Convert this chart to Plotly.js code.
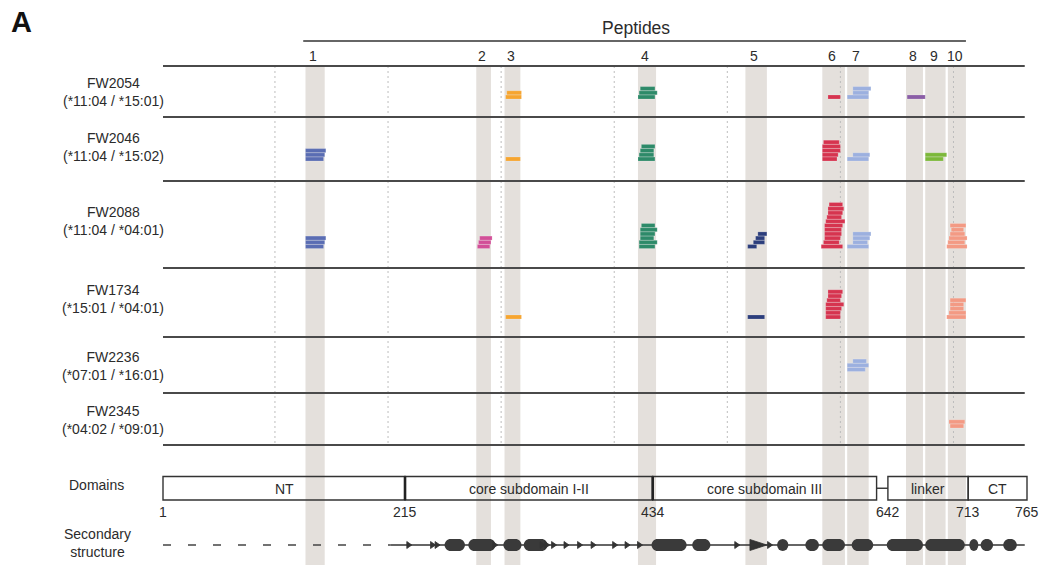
<!DOCTYPE html>
<html><head><meta charset="utf-8">
<script src="https://cdn.plot.ly/plotly-3.0.1.min.js"></script>
<style>html,body{margin:0;padding:0;background:#fff}</style>
</head><body>
<div id="chart" style="width:1041px;height:565px"></div>
<script>
// ---------------- DATA ----------------
const donors = ['FW2054','FW2046','FW2088','FW1734','FW2236','FW2345'];
const alleles = ['(*11:04 / *15:01)','(*11:04 / *15:02)','(*11:04 / *04:01)','(*15:01 / *04:01)','(*07:01 / *16:01)','(*04:02 / *09:01)'];
const peptideLabels = ['1','2','3','4','5','6','7','8','9','10'];
const peptideStart = [127,278,303,421,516,584,606,658,675,695];
const peptideEnd   = [144,291,317,437,535,604,625,673,693,711];
const residueGuides = [100,200,300,400,500,600,700];

// peptide hits per peptide: [donorIndex, startResidue, endResidue], listed bottom-to-top within a donor
const pep1Hits = [[1,127,143],[1,127,144],[1,127,145],[2,127,143],[2,127,144],[2,127,145]];
const pep2Hits = [[2,279,290],[2,280,291],[2,281,292]];
const pep3Hits = [[0,304,318],[0,305,318],[1,304,317],[3,304,318]];
const pep4Hits = [[0,421,436],[0,422,438],[0,423,436],[1,421,436],[1,422,435],[1,423,435],[1,424,436],
                  [2,422,436],[2,422,438],[2,423,435],[2,423,436],[2,423,438],[2,424,436]];
const pep5Hits = [[2,518,526],[2,523,533],[2,525,533],[2,527,535],[3,518,533]];
const pep6Hits = [[0,589,600],
                  [1,584,597],[1,584,598],[1,584,600],[1,584,600],[1,585,599],
                  [2,583,602],[2,585,599],[2,586,600],[2,586,601],[2,586,601],[2,586,602],[2,587,604],[2,588,601],[2,589,602],[2,589,603],[2,590,602],
                  [3,587,600],[3,587,600],[3,587,601],[3,587,603],[3,588,600],[3,589,601],[3,589,602]];
const pep7Hits = [[0,606,625],[0,611,625],[0,611,627],[1,606,625],[1,611,626],
                  [2,606,625],[2,611,624],[2,611,626],[2,611,627],[4,606,622],[4,606,625],[4,611,623]];
const pep8Hits = [[0,659,675]];
const pep9Hits = [[1,675,691],[1,675,694]];
const pep10Hits = [[2,694,712],[2,695,710],[2,696,712],[2,697,710],[2,698,709],[2,697,711],
                   [3,694,711],[3,696,711],[3,697,709],[3,697,709],[3,697,711],[5,697,709],[5,696,710]];
const allHits = [pep1Hits,pep2Hits,pep3Hits,pep4Hits,pep5Hits,pep6Hits,pep7Hits,pep8Hits,pep9Hits,pep10Hits];

// domains
const domainNames = ['NT','core subdomain I-II','core subdomain III','linker','CT'];
const domainStart = [1,215,434,642,713];
const domainEnd   = [215,434,632,713,765];
const boundaryLabels = [1,215,434,642,713,765];

// secondary structure
const disorderedEnd = 202;
const structureEnd = 763;
const helixStart = [250,271,302,320,433,469,544,569,584,610,641,675,714,724,744];
const helixEnd   = [268,295,318,341,464,485,554,581,604,629,673,710,722,735,756];
const strandAt = [221,242,246,297,339,343,349,360,372,384,403,414,425,511,540];
const bigStrandStart = [520];
const bigStrandEnd = [535];

// ---------------- STYLE / LAYOUT ----------------
const peptideColors = ['#5a6db3','#d24f98','#f6a530','#2d8a69','#2c3e7c','#d6344f','#9cb0df','#8a5ea6','#7cb83a','#f39a84'];
const W = 1041, H = 565;
const xRange = [-143.13, 777.38];
const resPerPx = (xRange[1]-xRange[0])/W;
const rowLines = [66,117,181,268,337,393,445];
const rowBase = [97,159,246.5,317,369.5,426];
const labelY = [92,147,221,299,366,420];
const barStep = 4.2, barH = 4.0;
const FONT = 'Liberation Sans, Arial, sans-serif';
const TXT = '#2b2b2b';

// ---------------- TRACES ----------------
const traces = allHits.map((hits, k) => {
  const counts = {};
  const ys = [], bases = [], lens = [];
  hits.forEach(h => {
    const d = h[0];
    const lvl = counts[d] || 0; counts[d] = lvl + 1;
    ys.push(rowBase[d] - lvl*barStep);
    bases.push(h[1]);
    lens.push(h[2]-h[1]);
  });
  return {type:'bar', orientation:'h', y:ys, x:lens, base:bases, width:barH,
    marker:{color:peptideColors[k], line:{color:'rgba(255,255,255,0.35)', width:0.5}},
    showlegend:false, hoverinfo:'skip'};
});

// ---------------- SHAPES ----------------
const shapes = [];
peptideStart.forEach((s,i)=>{
  shapes.push({type:'rect', xref:'x', yref:'y', x0:s, x1:peptideEnd[i], y0:rowLines[0], y1:H,
    fillcolor:'#e4e0dc', line:{width:0}, layer:'below'});
});
residueGuides.forEach(r=>{
  shapes.push({type:'line', xref:'x', yref:'y', x0:r, x1:r, y0:rowLines[0], y1:rowLines[rowLines.length-1],
    line:{color:'#bdbdbd', width:1, dash:'2px,3px'}, layer:'below'});
});
rowLines.forEach(y=>{
  shapes.push({type:'line', xref:'x', yref:'y', x0:1, x1:763, y0:y, y1:y,
    line:{color:'#4a4a4a', width:1.8}, layer:'below'});
});
shapes.push({type:'line', xref:'x', yref:'y', x0:peptideStart[0]-2, x1:peptideEnd[9], y0:41, y1:41,
  line:{color:'#333', width:1.5}});
const boxTop = 476.5, boxBot = 500;
domainStart.forEach((s,i)=>{
  shapes.push({type:'rect', xref:'x', yref:'y', x0:s, x1:domainEnd[i], y0:boxTop, y1:boxBot,
    fillcolor:'rgba(0,0,0,0)', line:{color:'#333', width:1.4}});
});
[215,434].forEach(b=>{
  shapes.push({type:'line', xref:'x', yref:'y', x0:b, x1:b, y0:boxTop, y1:boxBot, line:{color:'#222', width:2.6}});
});
shapes.push({type:'line', xref:'x', yref:'y', x0:domainEnd[2], x1:domainStart[3], y0:(boxTop+boxBot)/2, y1:(boxTop+boxBot)/2,
  line:{color:'#333', width:1.4}});
const ssY = 545;
shapes.push({type:'line', xref:'x', yref:'y', x0:1, x1:disorderedEnd, y0:ssY, y1:ssY, line:{color:'#444', width:1.4, dash:'8px,17px'}});
shapes.push({type:'line', xref:'x', yref:'y', x0:disorderedEnd, x1:structureEnd, y0:ssY, y1:ssY, line:{color:'#333', width:1.4}});
const hh = 6;
helixStart.forEach((a,i)=>{
  const b = helixEnd[i];
  const rr = hh*resPerPx;
  const yt = ssY-hh, yb = ssY+hh, k = 0.552;
  if (b-a <= 2*rr) {
    shapes.push({type:'circle', xref:'x', yref:'y', x0:a, x1:b, y0:yt, y1:yb, fillcolor:'#3a3a3a', line:{width:0}});
    return;
  }
  const path = `M ${a+rr},${yt} L ${b-rr},${yt} C ${b-rr+k*rr},${yt} ${b},${ssY-k*hh} ${b},${ssY} ` +
         `C ${b},${ssY+k*hh} ${b-rr+k*rr},${yb} ${b-rr},${yb} L ${a+rr},${yb} ` +
         `C ${a+rr-k*rr},${yb} ${a},${ssY+k*hh} ${a},${ssY} C ${a},${ssY-k*hh} ${a+rr-k*rr},${yt} ${a+rr},${yt} Z`;
  shapes.push({type:'path', xref:'x', yref:'y', path:path, fillcolor:'#3a3a3a', line:{width:0}});
});
strandAt.forEach(s=>{
  const w = 5*resPerPx;
  shapes.push({type:'path', xref:'x', yref:'y', path:`M ${s-w},${ssY-3.5} L ${s},${ssY} L ${s-w},${ssY+3.5} Z`,
    fillcolor:'#333', line:{color:'#333', width:0.8}});
});
bigStrandStart.forEach((s,i)=>{
  shapes.push({type:'path', xref:'x', yref:'y', path:`M ${s},${ssY-5.5} L ${bigStrandEnd[i]},${ssY} L ${s},${ssY+5.5} Z`,
    fillcolor:'#333', line:{color:'#333', width:0.8}});
});

// ---------------- ANNOTATIONS ----------------
const ann = [];
ann.push({text:'<b>A</b>', xref:'paper', yref:'y', x:21/W, y:22, xanchor:'center', yanchor:'middle', showarrow:false, font:{family:FONT, size:29, color:'#111'}});
ann.push({text:'Peptides', xref:'x', yref:'y', x:(peptideStart[0]+peptideEnd[9])/2, y:28, xanchor:'center', showarrow:false, font:{family:FONT, size:17.5, color:TXT}});
peptideLabels.forEach((t,i)=>{
  ann.push({text:t, xref:'x', yref:'y', x:(peptideStart[i]+peptideEnd[i])/2 - 1.5, y:56, xanchor:'center', showarrow:false, font:{family:FONT, size:14, color:TXT}});
});
donors.forEach((d,i)=>{
  ann.push({text:d+'<br>'+alleles[i], xref:'paper', yref:'y', x:113/W, y:labelY[i], xanchor:'center', showarrow:false, align:'center',
    font:{family:FONT, size:14, color:TXT}});
});
ann.push({text:'Domains', xref:'paper', yref:'y', x:96/W, y:485, xanchor:'center', showarrow:false, font:{family:FONT, size:14, color:TXT}});
ann.push({text:'Secondary<br>structure', xref:'paper', yref:'y', x:97/W, y:543, xanchor:'center', showarrow:false, font:{family:FONT, size:14, color:TXT}});
domainNames.forEach((n,i)=>{
  ann.push({text:n, xref:'x', yref:'y', x:(domainStart[i]+domainEnd[i])/2, y:488.5, xanchor:'center', showarrow:false, font:{family:FONT, size:14, color:TXT}});
});
boundaryLabels.forEach(b=>{
  ann.push({text:String(b), xref:'x', yref:'y', x:b, y:512, xanchor:'center', showarrow:false, font:{family:FONT, size:14, color:TXT}});
});

const layout = {
  width:W, height:H, margin:{l:0,r:0,t:0,b:0}, paper_bgcolor:'#fff', plot_bgcolor:'rgba(0,0,0,0)',
  barmode:'overlay', showlegend:false, hovermode:false,
  xaxis:{range:xRange, visible:false, showgrid:false, zeroline:false, fixedrange:true},
  yaxis:{range:[H,0], visible:false, showgrid:false, zeroline:false, fixedrange:true},
  shapes:shapes, annotations:ann
};
Plotly.newPlot('chart', traces, layout, {staticPlot:true, displayModeBar:false});
</script>
</body></html>
